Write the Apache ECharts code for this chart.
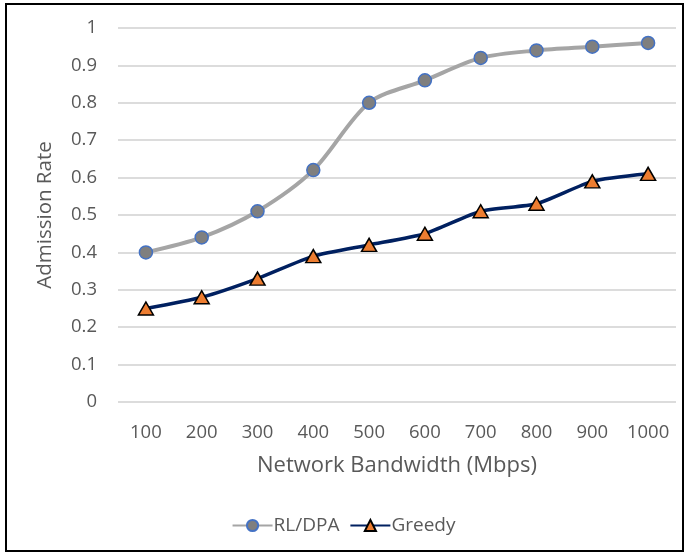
<!DOCTYPE html>
<html><head><meta charset="utf-8">
<script src="https://cdn.jsdelivr.net/npm/echarts@6/dist/echarts.min.js"></script>
<style>html,body{margin:0;padding:0;background:#fff}#c{width:687px;height:555px}</style>
</head><body><div id="c"></div>
<script>
var categories = ['100','200','300','400','500','600','700','800','900','1000'];
var rlDpa = [0.40, 0.44, 0.51, 0.62, 0.80, 0.86, 0.92, 0.94, 0.95, 0.96];
var greedy = [0.25, 0.28, 0.33, 0.39, 0.42, 0.45, 0.51, 0.53, 0.59, 0.61];
var yTicks = [0, 0.1, 0.2, 0.3, 0.4, 0.5, 0.6, 0.7, 0.8, 0.9, 1];

var FONT = '"Open Sans", "Noto Sans", sans-serif';
var chart = echarts.init(document.getElementById('c'));
chart.setOption({
  animation: false,
  textStyle: {fontFamily: FONT},
  graphic: [{type:'rect', shape:{x:6, y:4, width:677, height:547}, style:{fill:'none', stroke:'#000', lineWidth:2}, silent:true}],
  grid: {left:118, right:11, top:28, bottom:153},
  legend: {
    top: 511, left: 'center', itemGap: 10, itemWidth: 40, itemHeight: 14,
    textStyle: {color:'#595959', fontSize:19, fontFamily: FONT, padding:[0,0,0,-4]},
    data: ['RL/DPA','Greedy']
  },
  xAxis: {
    type:'category', data: categories, boundaryGap:true,
    axisLine:{show:false}, axisTick:{show:false},
    axisLabel:{color:'#595959', fontSize:18.5, margin:21, fontFamily: FONT},
    name:'Network Bandwidth (Mbps)', nameLocation:'middle', nameGap:53,
    nameTextStyle:{color:'#595959', fontSize:22, fontFamily: FONT}
  },
  yAxis: {
    type:'value', min:0, max:1, interval:0.1,
    axisLine:{show:false}, axisTick:{show:false},
    splitLine:{lineStyle:{color:'#D0D0D0', width:1.5}},
    axisLabel:{color:'#595959', fontSize:18.5, margin:21, fontFamily: FONT,
      formatter:function(v){ var t = yTicks.find(function(x){return Math.abs(x-v)<1e-9;}); return t===undefined? '' : String(t); }},
    name:'Admission Rate', nameLocation:'middle', nameGap:62, nameRotate:90,
    nameTextStyle:{color:'#595959', fontSize:20.5, fontFamily: FONT}
  },
  series: [
    {name:'RL/DPA', type:'line', data: rlDpa, smooth:0.3,
     symbol:'circle', symbolSize:13,
     lineStyle:{color:'#A5A5A5', width:4},
     itemStyle:{color:'#7F7F7F', borderColor:'#4472C4', borderWidth:1.5}},
    {name:'Greedy', type:'line', data: greedy, smooth:0.2,
     symbol:'triangle', symbolSize:[15,13],
     lineStyle:{color:'#002060', width:3.5},
     itemStyle:{color:'#ED7D31', borderColor:'#000', borderWidth:1.5}}
  ]
});
</script></body></html>
